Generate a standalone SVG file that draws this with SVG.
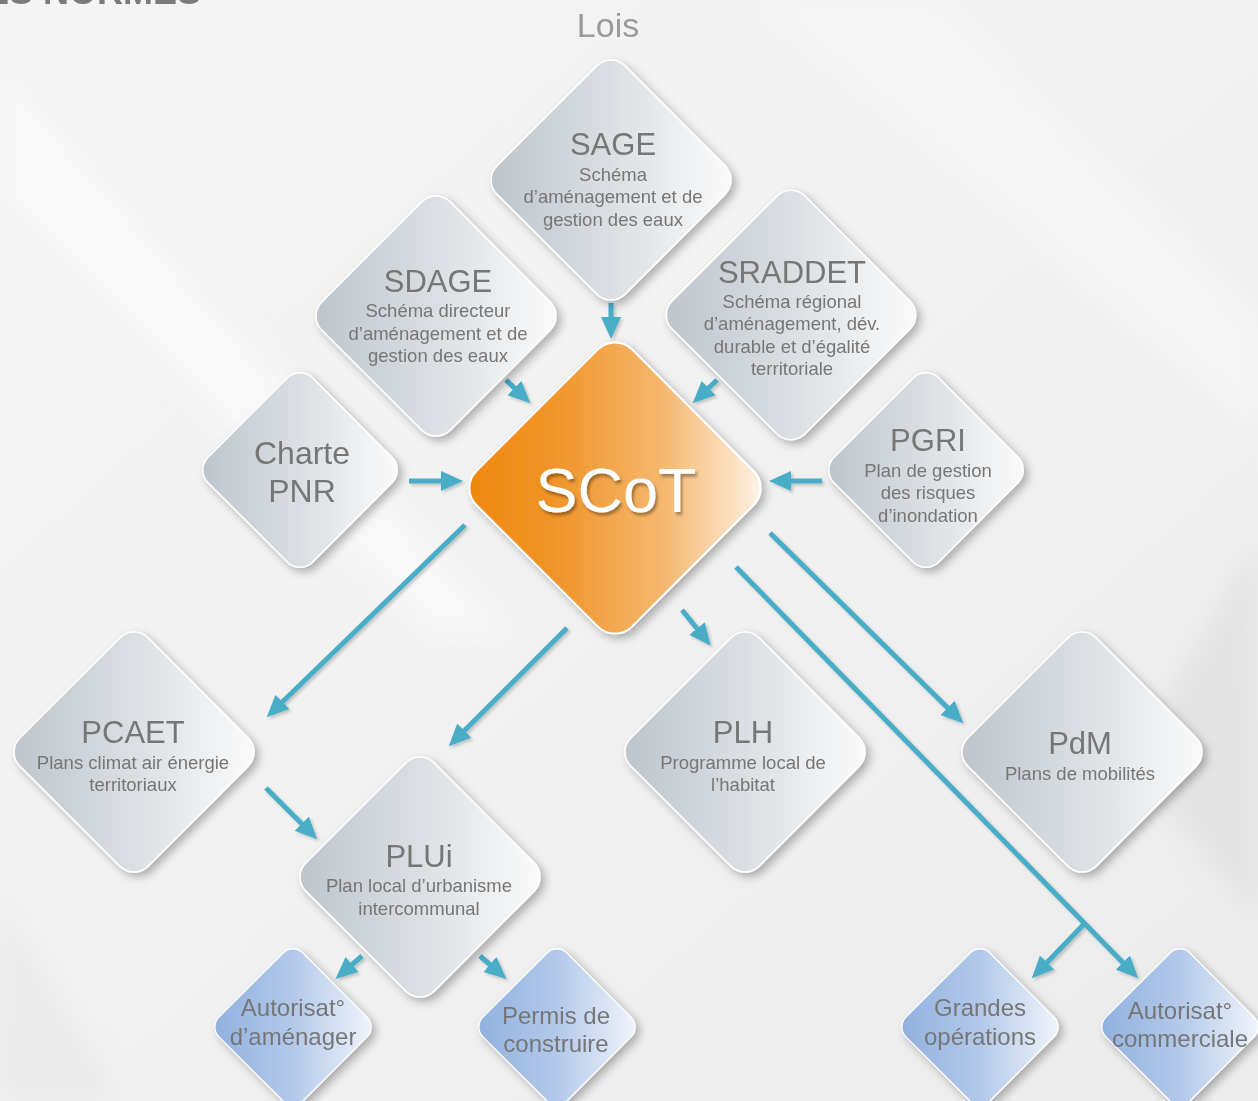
<svg xmlns="http://www.w3.org/2000/svg" xmlns:xlink="http://www.w3.org/1999/xlink" width="1258" height="1101" viewBox="0 0 1258 1101">
<defs>
  <linearGradient id="bg" x1="0" y1="0" x2="1" y2="1">
    <stop offset="0" stop-color="#f4f4f4"/>
    <stop offset="0.5" stop-color="#f1f1f1"/>
    <stop offset="1" stop-color="#ececec"/>
  </linearGradient>
  <linearGradient id="gGray" x1="-0.2" y1="0.5" x2="1.2" y2="0.5" gradientTransform="rotate(-45 0.5 0.5)">
    <stop offset="0" stop-color="#bcc4cb"/>
    <stop offset="0.5" stop-color="#dbdfe3"/>
    <stop offset="1" stop-color="#fcfcfc"/>
  </linearGradient>
  <linearGradient id="gBlue" x1="-0.2" y1="0.5" x2="1.2" y2="0.5" gradientTransform="rotate(-45 0.5 0.5)">
    <stop offset="0" stop-color="#8fb0de"/>
    <stop offset="0.5" stop-color="#b3c9ea"/>
    <stop offset="1" stop-color="#f3f6fb"/>
  </linearGradient>
  <linearGradient id="gOrange" x1="-0.2" y1="0.5" x2="1.2" y2="0.5" gradientTransform="rotate(-45 0.5 0.5)">
    <stop offset="0" stop-color="#ee870c"/>
    <stop offset="0.3" stop-color="#f09428"/>
    <stop offset="0.65" stop-color="#f5b76e"/>
    <stop offset="0.88" stop-color="#fbdfbf"/>
    <stop offset="1" stop-color="#fff8f0"/>
  </linearGradient>
  <linearGradient id="band" x1="0" y1="0" x2="1" y2="0">
    <stop offset="0" stop-color="#ffffff" stop-opacity="0"/>
    <stop offset="0.5" stop-color="#ffffff" stop-opacity="0.6"/>
    <stop offset="1" stop-color="#ffffff" stop-opacity="0"/>
  </linearGradient>
  <filter id="sh" x="-20%" y="-20%" width="150%" height="150%">
    <feDropShadow dx="4" dy="4" stdDeviation="4" flood-color="#000" flood-opacity="0.28"/>
  </filter>
  <filter id="shA" x="-20%" y="-20%" width="140%" height="140%">
    <feDropShadow dx="2" dy="2" stdDeviation="1.5" flood-color="#000" flood-opacity="0.2"/>
  </filter>
  <filter id="shT" x="-10%" y="-10%" width="130%" height="130%">
    <feDropShadow dx="2" dy="3" stdDeviation="1.5" flood-color="#000" flood-opacity="0.35"/>
  </filter>
  <filter id="blur"><feGaussianBlur stdDeviation="12"/></filter>
  <rect id="dBig" x="-90.7" y="-90.7" width="181.4" height="181.4" rx="20" transform="rotate(45)"/>
  <rect id="dSrad" x="-94" y="-94" width="188" height="188" rx="20" transform="rotate(45)"/>
  <rect id="dMid" x="-74" y="-74" width="148" height="148" rx="18" transform="rotate(45)"/>
  <rect id="dScot" x="-110" y="-110" width="220" height="220" rx="24" transform="rotate(45)"/>
  <rect id="dSmall" x="-59.3" y="-59.3" width="118.6" height="118.6" rx="14" transform="rotate(45)"/>
  <marker id="ah" markerUnits="userSpaceOnUse" markerWidth="24" markerHeight="22" refX="16" refY="11" orient="auto">
    <path d="M0,1 L22,11 L0,21 Z" fill="#48adc7"/>
  </marker>
  <style>
    .gray { fill: url(#gGray); stroke: #ffffff; stroke-width: 1.5; }
    .blue { fill: url(#gBlue); stroke: #ffffff; stroke-width: 1.2; }
    .orange { fill: url(#gOrange); stroke: #ffffff; stroke-width: 2; }
    text { font-family: "Liberation Sans", Arial, sans-serif; fill: #767676; text-anchor: middle; }
    .t { font-size: 31px; }
    .s { font-size: 18.5px; }
    .b { font-size: 24px; }
    .lois { font-size: 34px; fill: #9a9a9a; }
    .scot { font-size: 63px; fill: #ffffff; }
    .head { font-size: 36px; font-weight: bold; fill: #7a7a7a; text-anchor: end; }
    .arr line { stroke: #48adc7; stroke-width: 5; fill: none; }
  </style>
</defs>

<rect x="0" y="0" width="1258" height="1101" fill="url(#bg)"/>
<g filter="url(#blur)">
  <polygon points="0,60 0,200 430,640 520,640" fill="#fbfbfb" opacity="0.7"/>
  <polygon points="760,0 940,0 1258,320 1258,430" fill="#fafafa" opacity="0.7"/>
  <polygon points="1258,540 1258,920 1130,760" fill="#dedede" opacity="0.6"/>
  <polygon points="0,900 120,1101 0,1101" fill="#e6e6e6" opacity="0.6"/>
</g>

<text class="head" x="201" y="4">DES NORMES</text>
<text class="lois" x="608" y="37">Lois</text>

<g id="connectors" class="arr" filter="url(#shA)">
  <line x1="611" y1="303" x2="611" y2="333" marker-end="url(#ah)"/>
  <line x1="506" y1="380" x2="526" y2="399" marker-end="url(#ah)"/>
  <line x1="717" y1="380" x2="697" y2="399" marker-end="url(#ah)"/>
  <line x1="409" y1="481" x2="457" y2="481" marker-end="url(#ah)"/>
  <line x1="822" y1="481" x2="775" y2="481" marker-end="url(#ah)"/>
  <line x1="465" y1="525" x2="271" y2="713" marker-end="url(#ah)"/>
  <line x1="567" y1="628" x2="453" y2="742" marker-end="url(#ah)"/>
  <line x1="682" y1="610" x2="707" y2="641" marker-end="url(#ah)"/>
  <line x1="770" y1="533" x2="959" y2="719" marker-end="url(#ah)"/>
  <line x1="736" y1="567" x2="1134" y2="974" marker-end="url(#ah)"/>
  <line x1="1086" y1="922" x2="1036" y2="974" marker-end="url(#ah)"/>
  <line x1="266" y1="788" x2="313" y2="835" marker-end="url(#ah)"/>
  <line x1="362" y1="956" x2="340" y2="975" marker-end="url(#ah)"/>
  <line x1="480" y1="956" x2="502" y2="975" marker-end="url(#ah)"/>
</g>

<g id="n-sage">
  <g filter="url(#sh)"><use href="#dBig" x="611" y="180" class="gray"/></g>
  <text class="t" x="613" y="155">SAGE</text>
  <text class="s" x="613" y="181">Schéma</text>
  <text class="s" x="613" y="203">d’aménagement et de</text>
  <text class="s" x="613" y="226">gestion des eaux</text>
</g>

<g id="n-sdage">
  <g filter="url(#sh)"><use href="#dBig" x="436" y="316" class="gray"/></g>
  <text class="t" x="438" y="292">SDAGE</text>
  <text class="s" x="438" y="317">Schéma directeur</text>
  <text class="s" x="438" y="340">d’aménagement et de</text>
  <text class="s" x="438" y="362">gestion des eaux</text>
</g>

<g id="n-sraddet">
  <g filter="url(#sh)"><use href="#dSrad" x="791" y="315" class="gray"/></g>
  <text class="t" x="792" y="283">SRADDET</text>
  <text class="s" x="792" y="308">Schéma régional</text>
  <text class="s" x="792" y="330">d’aménagement, dév.</text>
  <text class="s" x="792" y="353">durable et d’égalité</text>
  <text class="s" x="792" y="375">territoriale</text>
</g>

<g id="n-charte">
  <g filter="url(#sh)"><use href="#dMid" x="300" y="470" class="gray"/></g>
  <text class="t" x="302" y="464" style="font-size:32px">Charte</text>
  <text class="t" x="302" y="502" style="font-size:32px">PNR</text>
</g>

<g id="n-pgri">
  <g filter="url(#sh)"><use href="#dMid" x="926" y="470" class="gray"/></g>
  <text class="t" x="928" y="451">PGRI</text>
  <text class="s" x="928" y="477">Plan de gestion</text>
  <text class="s" x="928" y="499">des risques</text>
  <text class="s" x="928" y="522">d’inondation</text>
</g>

<g id="n-scot">
  <g filter="url(#sh)"><use href="#dScot" x="615" y="488" class="orange"/></g>
  <text class="scot" x="616" y="512" filter="url(#shT)">SCoT</text>
</g>

<g id="n-pcaet">
  <g filter="url(#sh)"><use href="#dBig" x="134" y="752" class="gray"/></g>
  <text class="t" x="133" y="743">PCAET</text>
  <text class="s" x="133" y="769">Plans climat air énergie</text>
  <text class="s" x="133" y="791">territoriaux</text>
</g>

<g id="n-plui">
  <g filter="url(#sh)"><use href="#dBig" x="420" y="877" class="gray"/></g>
  <text class="t" x="419" y="867">PLUi</text>
  <text class="s" x="419" y="892">Plan local d’urbanisme</text>
  <text class="s" x="419" y="915">intercommunal</text>
</g>

<g id="n-plh">
  <g filter="url(#sh)"><use href="#dBig" x="745" y="752" class="gray"/></g>
  <text class="t" x="743" y="743">PLH</text>
  <text class="s" x="743" y="769">Programme local de</text>
  <text class="s" x="743" y="791">l’habitat</text>
</g>

<g id="n-pdm">
  <g filter="url(#sh)"><use href="#dBig" x="1082" y="752" class="gray"/></g>
  <text class="t" x="1080" y="754">PdM</text>
  <text class="s" x="1080" y="780">Plans de mobilités</text>
</g>

<g id="n-autamen">
  <g filter="url(#sh)"><use href="#dSmall" x="293" y="1027" class="blue"/></g>
  <text class="b" x="293" y="1016">Autorisat°</text>
  <text class="b" x="293" y="1045">d’aménager</text>
</g>

<g id="n-permis">
  <g filter="url(#sh)"><use href="#dSmall" x="557" y="1027" class="blue"/></g>
  <text class="b" x="556" y="1024">Permis de</text>
  <text class="b" x="556" y="1052">construire</text>
</g>

<g id="n-grandes">
  <g filter="url(#sh)"><use href="#dSmall" x="980" y="1027" class="blue"/></g>
  <text class="b" x="980" y="1016">Grandes</text>
  <text class="b" x="980" y="1045">opérations</text>
</g>

<g id="n-autcom">
  <g filter="url(#sh)"><use href="#dSmall" x="1180" y="1027" class="blue"/></g>
  <text class="b" x="1180" y="1019">Autorisat°</text>
  <text class="b" x="1180" y="1047">commerciale</text>
</g>
</svg>
